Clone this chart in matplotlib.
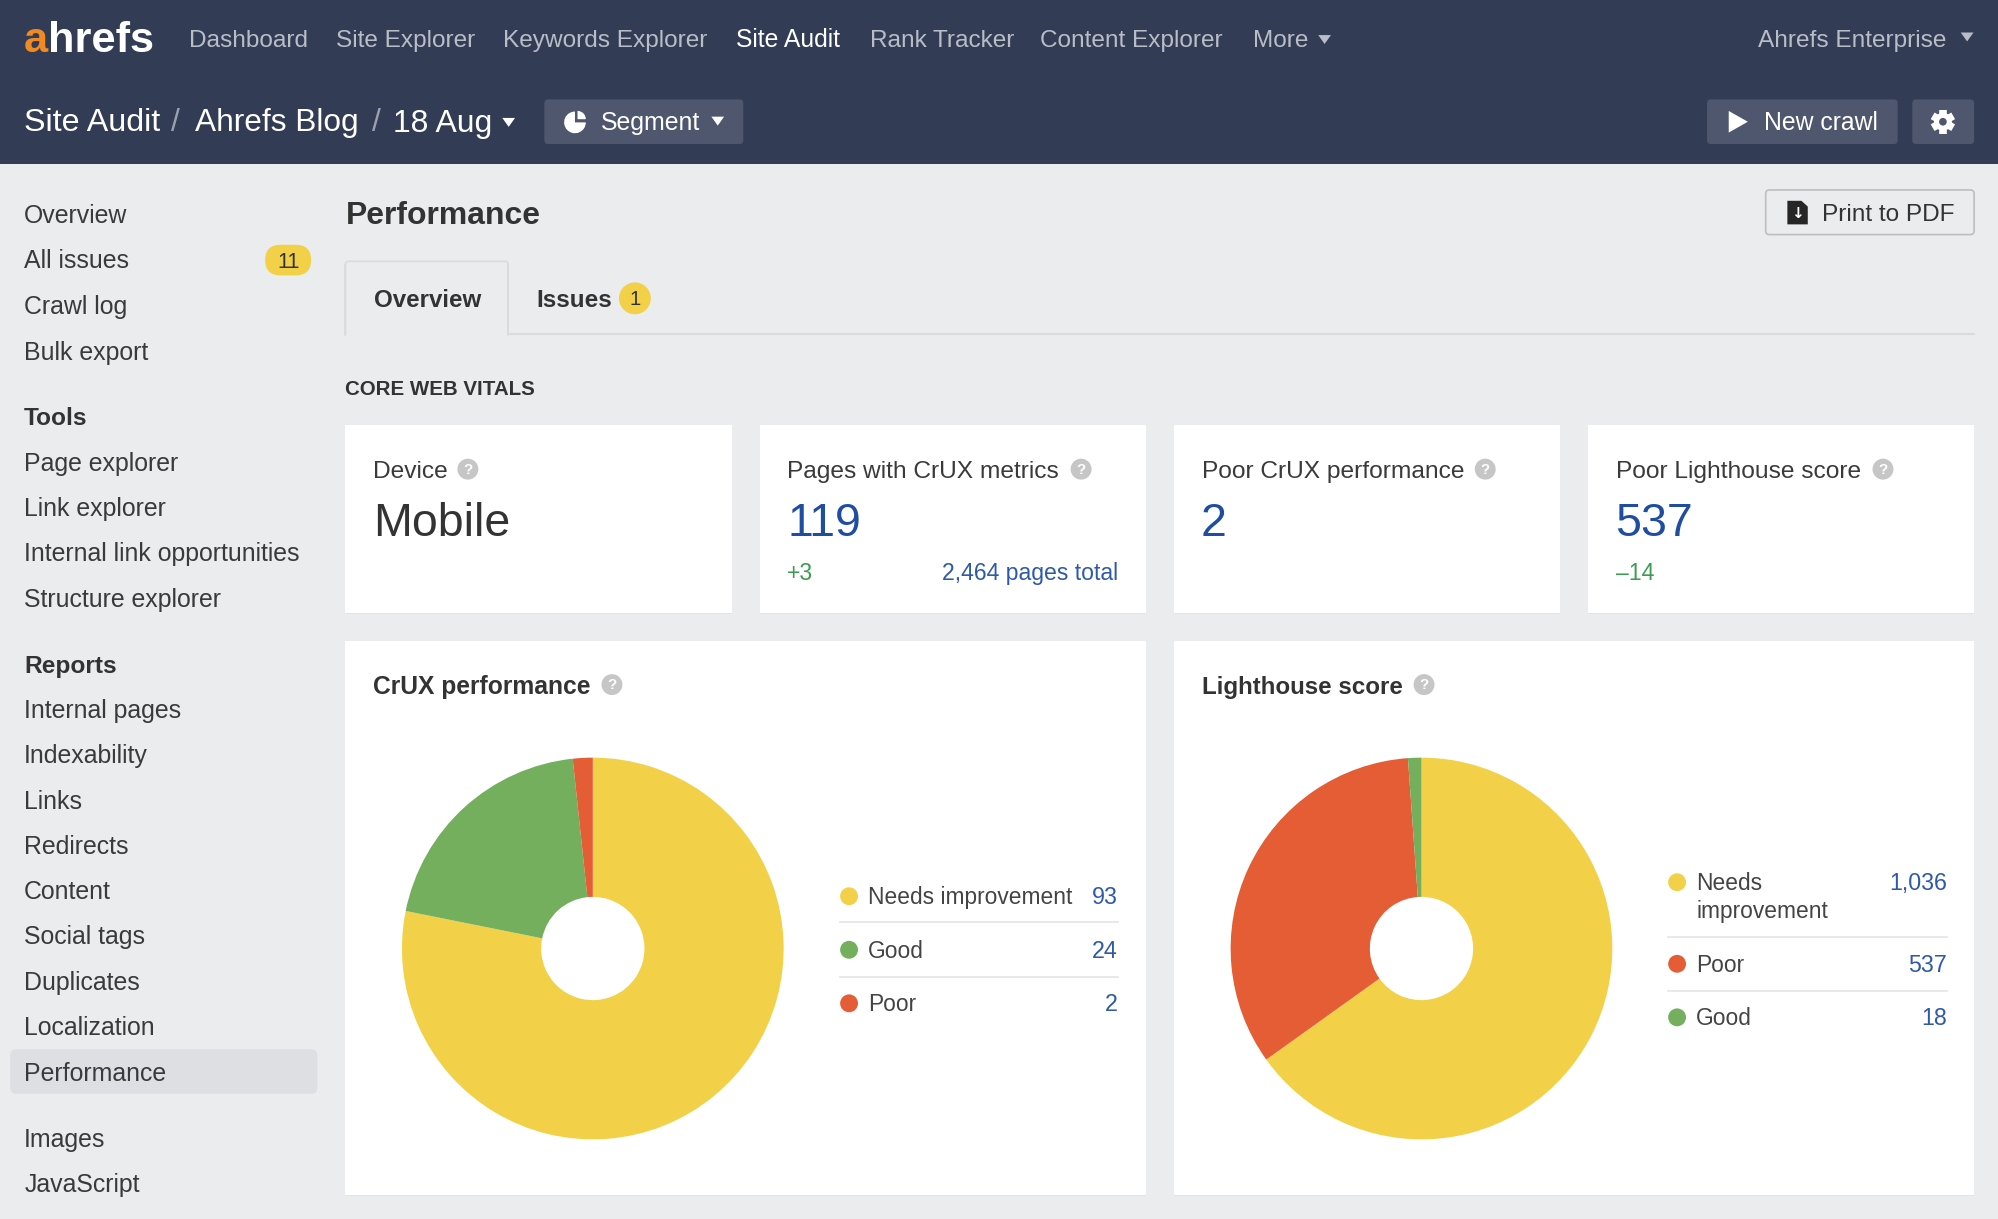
import matplotlib
matplotlib.use('Agg')
import matplotlib.pyplot as plt
import numpy as np
from matplotlib.patches import Circle, FancyBboxPatch, Polygon, Rectangle, Wedge

#Data
crux_labels = ['Needs improvement', 'Good', 'Poor']
crux_values = [93, 24, 2]
crux_colors = ['#F2D048', '#73AF5D', '#E45D35']
light_labels = ['Needs\nimprovement', 'Poor', 'Good']
light_values = [1036, 537, 18]
light_colors = ['#F2D048', '#E45D35', '#73AF5D']

nav_items = ['Dashboard', 'Site Explorer', 'Keywords Explorer', 'Site Audit', 'Rank Tracker', 'Content Explorer', 'More']
nav_x = [148, 263.5, 394.5, 577.5, 682.5, 816, 983]

side_items = ['Overview', 'All issues', 'Crawl log', 'Bulk export', 'Tools', 'Page explorer', 'Link explorer',
              'Internal link opportunities', 'Structure explorer', 'Reports', 'Internal pages', 'Indexability',
              'Links', 'Redirects', 'Content', 'Social tags', 'Duplicates', 'Localization', 'Performance',
              'Images', 'JavaScript']
side_y = [168, 203.5, 239.5, 275.5, 327, 362.5, 398, 433.5, 469, 521, 556.5, 592, 627.5, 663, 698.5, 734, 770, 805, 841, 893, 928]
side_bold = ['Tools', 'Reports']

W, H = 1999, 1219
S = W / 1568 # the layout below is measured on a 1568 wide copy
NAVY = '#323C55'
BG = '#EBECEE'
BTN = '#4F576E'
DARK = '#333333'
BLUE = '#1F4EA1'
LINK = '#2F5AA8'
GREEN = '#3F9A52'
FONT = 'Liberation Sans'

fig = plt.figure(figsize=(W / 100, H / 100), dpi=100, facecolor=BG)
ax = fig.add_axes([0, 0, 1, 1])
ax.set_xlim(0, W / S)
ax.set_ylim(H / S, 0)
ax.axis('off')


def label(x, y, s, size=19.3, color=DARK, weight='normal', ha='left'):
  #y is the middle of the x-height, so mixed labels stay on one baseline
  ax.text(x, y + size * 0.35, s, fontsize=size * S * 0.72, color=color, fontweight=weight,
          ha=ha, va='baseline', family=FONT, zorder=5)


def box(x0, y0, x1, y1, color, radius=3, edge='none', z=1):
  ax.add_patch(FancyBboxPatch((x0, y0), x1 - x0, y1 - y0, boxstyle=f'round,pad=0,rounding_size={radius}',
                              facecolor=color, edgecolor=edge, linewidth=1.2, zorder=z))


def caret(x, y, color, w=5, h=7):
  ax.add_patch(Polygon([(x - w, y - h / 2), (x + w, y - h / 2), (x, y + h / 2)], facecolor=color, edgecolor='none'))


def help_icon(x, y):
  ax.add_patch(Circle((x, y), 8.2, facecolor='#C6C6C6', edgecolor='none', zorder=3))
  ax.text(x, y + 0.5, '?', fontsize=12 * S * 0.72, color='white', fontweight='bold', ha='center',
          va='center', family=FONT, zorder=6)


def card(x0, y0, x1, y1):
  ax.add_patch(Rectangle((x0, y0 + 1), x1 - x0, y1 - y0, facecolor='#E2E3E6', edgecolor='none', zorder=1))
  ax.add_patch(Rectangle((x0, y0), x1 - x0, y1 - y0, facecolor='white', edgecolor='none', zorder=2))


def draw_pie(cx, cy, r, values, colors):
  pie_ax = fig.add_axes([(cx - r) * S / W, 1 - (cy + r) * S / H, 2 * r * S / W, 2 * r * S / H])
  pie_ax.pie(values, colors=colors, startangle=90, counterclock=False, radius=1,
             wedgeprops={'width': 1 - 40.5 / r, 'linewidth': 0})
  pie_ax.set_xlim(-1, 1)
  pie_ax.set_ylim(-1, 1)
  pie_ax.set_aspect('equal')


def legend_rows(rows_y, labels, values, colors, dot_x, right, line_y):
  text_x = dot_x + 15
  for y, name, value, color in zip(rows_y, labels, values, colors):
    ax.add_patch(Circle((dot_x, y), 7, facecolor=color, edgecolor='none', zorder=3))
    for i, part in enumerate(name.split('\n')):
      label(text_x, y + i * 22, part, 17.9, '#444444')
    label(right, y, f'{value:,}', 18.2, LINK, ha='right')
  for y in line_y:
    ax.plot([dot_x - 7, right], [y, y], color='#E6E7E9', lw=1.3, zorder=3)


def gear(x, y):
  #solid cog: ring of teeth around a disc with a hole
  for a in np.arange(0, 360, 60):
    rad = np.radians(a + 30)
    ax.plot([x, x + 9.3 * np.cos(rad)], [y, y + 9.3 * np.sin(rad)], color='white', lw=5.5, solid_capstyle='butt', zorder=3)
  ax.add_patch(Circle((x, y), 7, facecolor='white', edgecolor='none', zorder=3))
  ax.add_patch(Circle((x, y), 3, facecolor=BTN, edgecolor='none', zorder=4))


#Header
ax.add_patch(Rectangle((0, 0), W / S, 128.5, facecolor=NAVY, edgecolor='none'))
label(19, 29, 'a', 34, '#F08A24', 'bold')
label(37.5, 29, 'hrefs', 34, 'white', 'bold')
for name, x in zip(nav_items, nav_x):
  label(x, 30, name, 19.4 if name == 'Site Audit' else 19.1, 'white' if name == 'Site Audit' else '#B9BDC7')
caret(1039, 31, '#B9BDC7')
label(1527, 30, 'Ahrefs Enterprise', 19.1, '#B9BDC7', ha='right')
caret(1543, 29, '#B9BDC7')

label(19, 94, 'Site Audit', 25.3, 'white')
label(138, 94, '/', 25, '#9AA0AE', ha='center')
label(153, 94, 'Ahrefs Blog', 24.8, 'white')
label(295, 94, '/', 25, '#9AA0AE', ha='center')
label(308, 95, '18 Aug', 25, 'white')
caret(399, 96, 'white')

box(427, 78, 583, 113, BTN)
ax.add_patch(Wedge((451, 96), 8.5, 0, 270, facecolor='white', edgecolor='none', zorder=3))
ax.add_patch(Wedge((453, 93.5), 6.5, 270, 360, facecolor='white', edgecolor='none', zorder=3))
label(471, 95.5, 'Segment', 19.5, 'white')
caret(563, 95, 'white')

box(1339, 78, 1488.5, 113, BTN)
ax.add_patch(Polygon([(1356, 87), (1356, 104), (1371, 95.5)], facecolor='white', edgecolor='none', zorder=3))
label(1384, 95.5, 'New crawl', 19.4, 'white')
box(1500, 78, 1548.5, 113, BTN)
gear(1524, 95.5)

#Sidebar
box(8, 823, 249, 858, '#DEDFE3', radius=5)
for name, y in zip(side_items, side_y):
  if name in side_bold:
    label(19, y, name, 19.2, DARK, 'bold')
  else:
    label(19, y, name, 19.5, '#3A3A3A')
box(208, 192, 244, 216, '#F2D048', radius=12)
label(226, 204, '11', 17, DARK, ha='center')

#Title row and tabs
label(271, 167, 'Performance', 25, DARK, 'bold')
box(1385, 149, 1548.5, 184, BG, edge='#BDBEC1')
ax.add_patch(Polygon([(1402, 157.5), (1413, 157.5), (1418, 162), (1418, 176), (1402, 176)], facecolor='#262626', edgecolor='none', zorder=3))
ax.text(1410, 167.5, '\u2193', fontsize=12 * S * 0.72, color='white', fontweight='bold', ha='center', va='center',
        family='DejaVu Sans', zorder=4)
label(1429, 167, 'Print to PDF', 19.1, DARK)

ax.plot([271, 1548.5], [262, 262], color='#DADBDE', lw=1.5)
box(271, 205, 398.5, 270, BG, radius=2, edge='#DADBDE', z=2)
ax.add_patch(Rectangle((269, 262.5), 132, 10, facecolor=BG, edgecolor='none', zorder=2))
ax.plot([271, 271], [208, 263], color='#DADBDE', lw=1.2, zorder=3)
ax.plot([398.5, 398.5], [208, 263], color='#DADBDE', lw=1.2, zorder=3)
label(293, 234, 'Overview', 18.9, DARK, 'bold')
label(421, 234, 'Issues', 19, DARK, 'bold')
ax.add_patch(Circle((498, 234), 12.5, facecolor='#F2D048', edgecolor='none'))
label(498, 234, '1', 16, DARK, ha='center')

label(271, 304, 'CORE WEB VITALS', 16.1, DARK, 'bold')

#Stat cards
card(271, 333.5, 574, 481)
card(596, 333.5, 899, 481)
card(920.5, 333.5, 1224, 481)
card(1246, 333.5, 1548.5, 481)

label(292.5, 368, 'Device', 19.2, '#3A3A3A')
label(617.5, 368, 'Pages with CrUX metrics', 19.2, '#3A3A3A')
label(942.5, 368, 'Poor CrUX performance', 19.2, '#3A3A3A')
label(1267.5, 368, 'Poor Lighthouse score', 19.2, '#3A3A3A')
for x in [367, 848, 1165, 1477]:
  help_icon(x, 368)

label(292.5, 408, 'Mobile', 36.5, DARK)
label(617.5, 408, '119', 36.5, BLUE)
label(942, 408, '2', 36.5, BLUE)
label(1267, 408, '537', 36.5, BLUE)

label(617.5, 449, '+3', 18, GREEN)
label(877, 449, '2,464 pages total', 18, LINK, ha='right')
label(1267.5, 449, '\u201314', 18, GREEN)

#Pie cards
card(271, 503, 899, 937)
card(920.5, 503, 1548.5, 937)
label(292.5, 537.5, 'CrUX performance', 19.3, DARK, 'bold')
label(942.5, 537.5, 'Lighthouse score', 18.9, DARK, 'bold')
help_icon(480, 537)
help_icon(1117, 537)

draw_pie(465, 744, 149.7, crux_values, crux_colors)
draw_pie(1115, 744, 149.7, light_values, light_colors)

legend_rows([703, 745, 787], crux_labels, crux_values, crux_colors, 666, 877, [723.5, 766])
legend_rows([692, 756, 798], light_labels, light_values, light_colors, 1315.5, 1527, [735, 777])

fig.savefig('out.png', dpi=100, facecolor=BG)
